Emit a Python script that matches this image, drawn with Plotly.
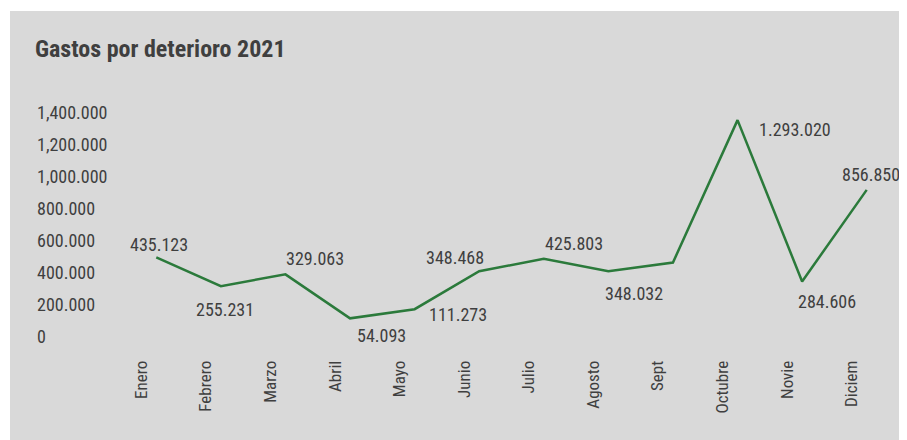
import plotly.graph_objects as go

# datos
meses = ["Enero", "Febrero", "Marzo", "Abril", "Mayo", "Junio",
         "Julio", "Agosto", "Sept", "Octubre", "Novie", "Diciem"]
gastos = [435123, 255231, 329063, 54093, 111273, 348468,
          425803, 348032, 403000, 1293020, 284606, 856850]
etiquetas = ["435.123", "255.231", "329.063", "54.093", "111.273", "348.468",
             "425.803", "348.032", "", "1.293.020", "284.606", "856.850"]
ticks_y = [0, 200000, 400000, 600000, 800000, 1000000, 1200000, 1400000]
ticks_y_txt = ["0", "200.000", "400.000", "600.000", "800.000",
               "1,000.000", "1,200.000", "1,400.000"]

FONT = "Roboto Condensed, Roboto, DejaVu Sans Condensed, sans-serif"
GRIS = "#d9d9d9"
TXT = "#3f3f3f"

# la pagina deja 8px de margen en el body
W, H = 899, 432
L, R, T, B = 116, 8, 95, 113
pw = W - L - R
ph = H - T - B

# desplazamiento (px) de cada etiqueta respecto a su punto
desp = [(3, 13), (4, -23), (30, 16), (31, -17), (43, -5), (-24, 14),
        (30, 15), (26, -22), (0, 0), (57, -9), (25, -20), (4, 15)]

fig = go.Figure()
fig.add_trace(go.Scatter(
    x=meses, y=gastos,
    mode="lines",
    line=dict(color="#2b7a3b", width=2.5),
    hoverinfo="x+y",
    showlegend=False,
))

for m, v, t, (dx, dy) in zip(meses, gastos, etiquetas, desp):
    if t:
        fig.add_annotation(x=m, y=v, text=t, showarrow=False,
                           xshift=dx, yshift=dy,
                           font=dict(family=FONT, size=18, color=TXT))

# fondo gris del recuadro
fig.add_shape(type="rect", xref="paper", yref="paper", layer="below",
              x0=(2 - L) / pw, x1=(W - L) / pw,
              y0=-B / ph, y1=1 + (T - 3) / ph,
              fillcolor=GRIS, line=dict(width=0))

# etiquetas del eje y alineadas a la izquierda
for v, t in zip(ticks_y, ticks_y_txt):
    fig.add_annotation(x=(27 - L) / pw, xref="paper", xanchor="left",
                       y=v, yref="y", yshift=-9, text=t, showarrow=False,
                       font=dict(family=FONT, size=18, color=TXT))

fig.update_layout(
    width=W, height=H,
    margin=dict(l=L, r=R, t=T, b=B),
    paper_bgcolor="white",
    plot_bgcolor="rgba(0,0,0,0)",
    title=dict(text="<b>Gastos por deterioro 2021</b>",
               x=27 / W, xanchor="left", xref="container",
               y=1 - 41 / H, yanchor="middle", yref="container",
               font=dict(family=FONT, size=24, color=TXT)),
    font=dict(family=FONT, color=TXT),
)
fig.update_xaxes(type="category", range=[-0.5, 11.5], showgrid=False,
                 zeroline=False, showline=False, tickangle=-90,
                 ticks="outside", ticklen=26, tickcolor="rgba(0,0,0,0)",
                 ticklabelshift=-15,
                 tickfont=dict(family=FONT, size=17, color=TXT))
fig.update_yaxes(range=[0, 1400000], showgrid=False, zeroline=False,
                 showline=False, showticklabels=False, fixedrange=True)

fig.write_html("out.html")
